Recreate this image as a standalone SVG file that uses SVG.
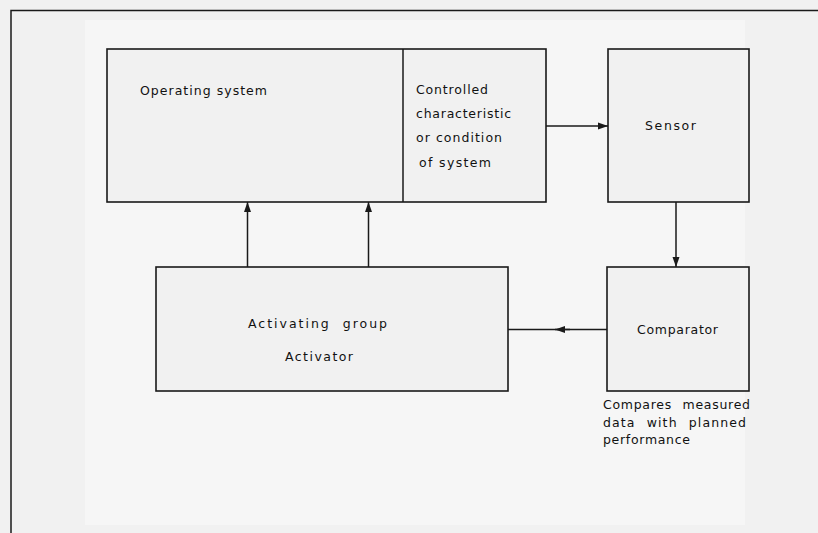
<svg xmlns="http://www.w3.org/2000/svg" width="818" height="533" viewBox="0 0 818 533">
  <style>
    .box { fill: #f1f1f1; stroke: #1a1a1a; stroke-width: 1.6; }
    .ln { fill: none; stroke: #1a1a1a; stroke-width: 1.5; }
    text { font-family: "DejaVu Sans", "Liberation Sans", sans-serif; font-size: 12.5px; fill: #111; }
    .ws { word-spacing: 6px; }
  </style>
  <defs>
    <marker id="ah" viewBox="0 0 10 8" refX="10" refY="4" markerWidth="10" markerHeight="8" markerUnits="userSpaceOnUse" orient="auto">
      <path d="M0,0.5 L10,4 L0,7.5 Z" fill="#1a1a1a"/>
    </marker>
  </defs>
  <rect x="0" y="0" width="818" height="533" fill="#f1f1f1"/>
  <rect x="85" y="20" width="660" height="505" fill="#f6f6f6"/>
  <polyline class="ln" points="11,533 11,10.5 818,10.5"/>

  <g id="operating-system">
    <rect class="box" x="107" y="49" width="439" height="153"/>
    <line class="ln" x1="403" y1="49" x2="403" y2="202"/>
    <text x="140" y="95" textLength="127" lengthAdjust="spacing">Operating system</text>
  </g>
  <g id="controlled">
    <text x="416" y="94" textLength="72" lengthAdjust="spacing">Controlled</text>
    <text x="416" y="118" textLength="95" lengthAdjust="spacing">characteristic</text>
    <text x="416" y="142" textLength="86" lengthAdjust="spacing">or condition</text>
    <text x="419" y="167" textLength="72" lengthAdjust="spacing">of system</text>
  </g>
  <g id="sensor">
    <rect class="box" x="608" y="49" width="141" height="153"/>
    <text x="645" y="130" textLength="51" lengthAdjust="spacing">Sensor</text>
  </g>
  <g id="comparator">
    <rect class="box" x="607" y="267" width="142" height="124"/>
    <text x="637" y="334" textLength="81" lengthAdjust="spacing">Comparator</text>
    <text class="ws" x="603" y="409" textLength="147" lengthAdjust="spacing">Compares measured</text>
    <text class="ws" x="603" y="427" textLength="143" lengthAdjust="spacing">data with planned</text>
    <text x="603" y="444" textLength="87" lengthAdjust="spacing">performance</text>
  </g>
  <g id="activating-group">
    <rect class="box" x="156" y="267" width="352" height="124"/>
    <text class="ws" x="248" y="328" textLength="139" lengthAdjust="spacing">Activating group</text>
    <text x="285" y="361" textLength="68" lengthAdjust="spacing">Activator</text>
  </g>

  <g id="connectors">
    <line class="ln" x1="546" y1="126" x2="608" y2="126" marker-end="url(#ah)"/>
    <line class="ln" x1="676" y1="202" x2="676" y2="267" marker-end="url(#ah)"/>
    <line class="ln" x1="607" y1="329.5" x2="508" y2="329.5"/>
    <line class="ln" x1="570" y1="329.5" x2="555" y2="329.5" marker-end="url(#ah)"/>
    <line class="ln" x1="247.5" y1="267" x2="247.5" y2="202" marker-end="url(#ah)"/>
    <line class="ln" x1="368.5" y1="267" x2="368.5" y2="202" marker-end="url(#ah)"/>
  </g>
</svg>
